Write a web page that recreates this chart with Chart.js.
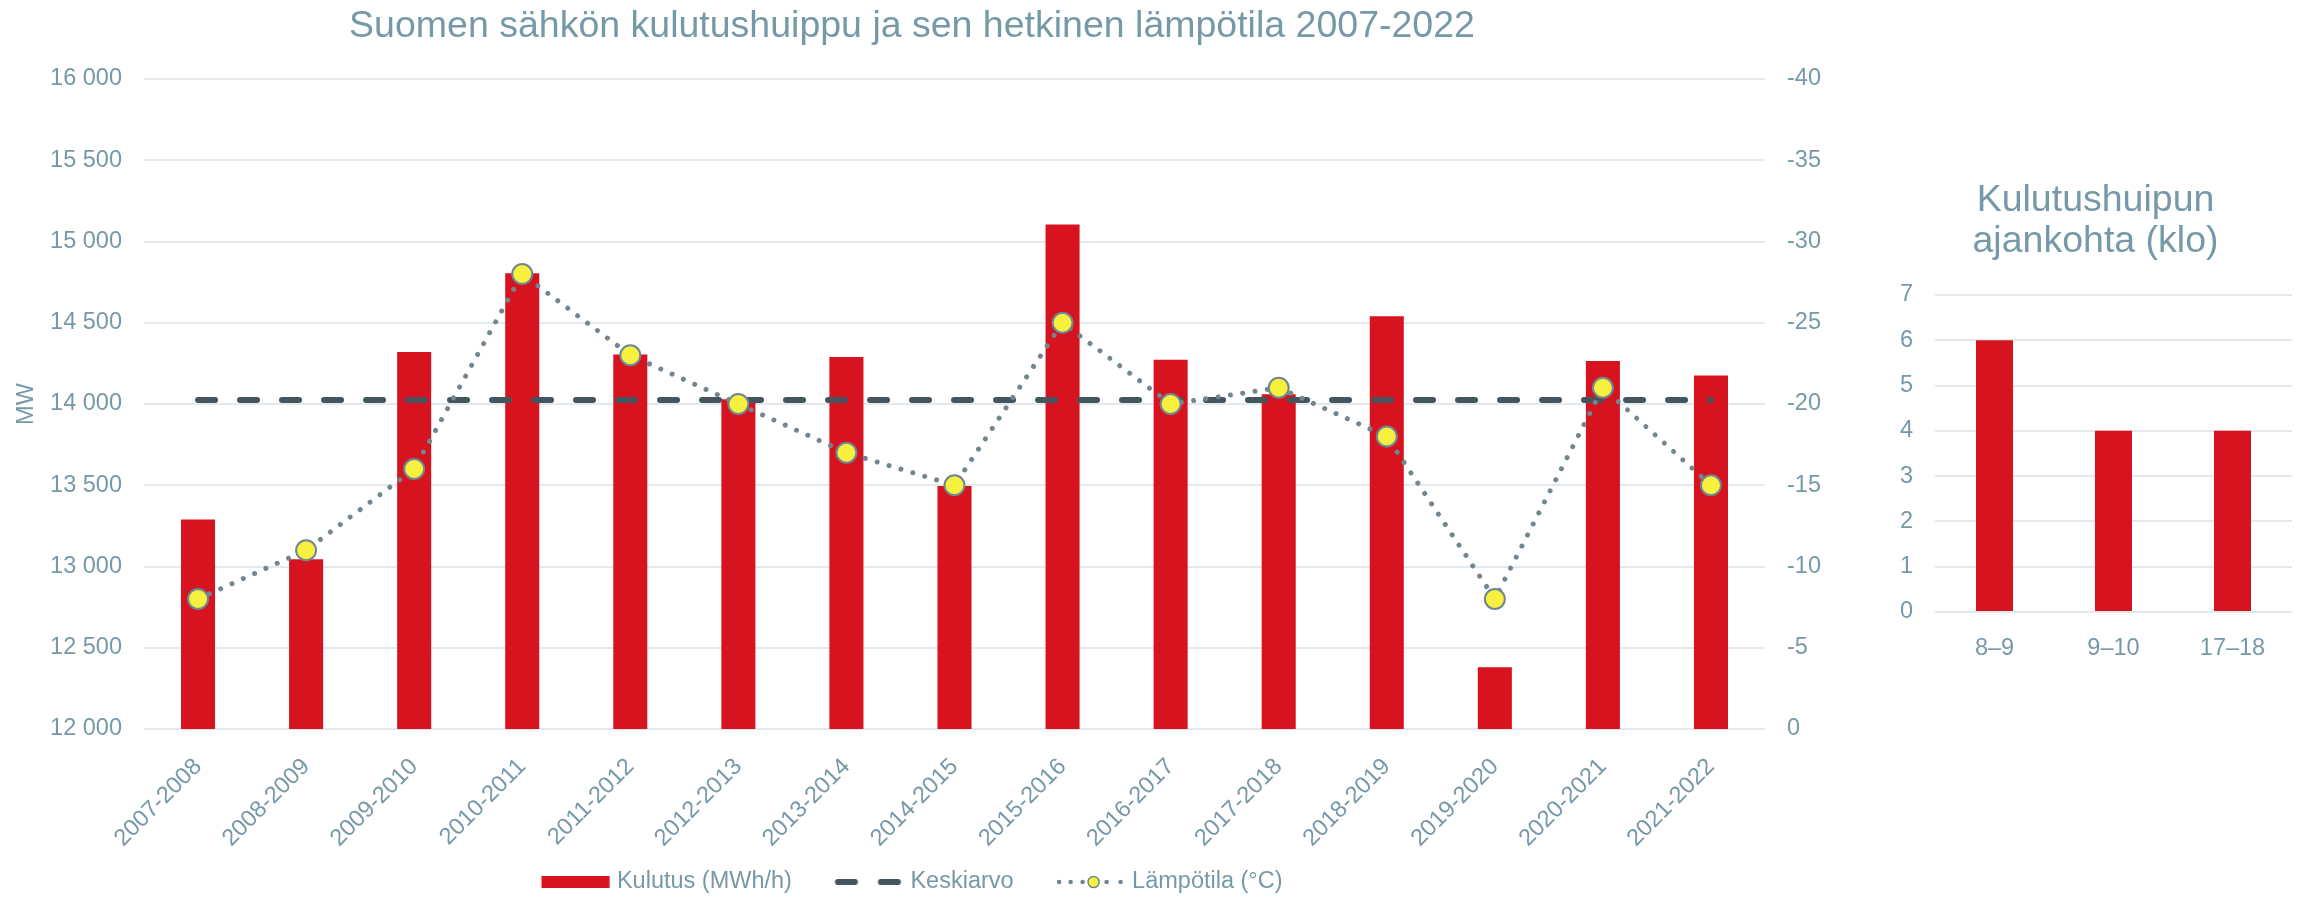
<!DOCTYPE html>
<html>
<head>
<meta charset="utf-8">
<script src="https://cdn.jsdelivr.net/npm/chart.js@4.4.1/dist/chart.umd.min.js"></script>
<style>
html, body { margin: 0; padding: 0; background: #fff; }
#main { position: absolute; left: 0; top: 0; width: 1824px; height: 897px; }
#side { position: absolute; left: 1899px; top: 0; width: 406px; height: 897px; }
</style>
</head>
<body>
<div id="main"><canvas id="mainChart"></canvas></div>
<div id="side"><canvas id="sideChart"></canvas></div>
<script>
// Data
var seasons = ['2007-2008', '2008-2009', '2009-2010', '2010-2011', '2011-2012', '2012-2013', '2013-2014',
    '2014-2015', '2015-2016', '2016-2017', '2017-2018', '2018-2019', '2019-2020', '2020-2021', '2021-2022'];
var kulutus = [13290, 13045, 14320, 14805, 14305, 14030, 14290, 13495, 15105, 14272, 14060, 14540, 12380, 14265, 14175];
var keskiarvo = [14025, 14025, 14025, 14025, 14025, 14025, 14025, 14025, 14025, 14025, 14025, 14025, 14025, 14025, 14025];
var lampotila = [-8, -11, -16, -28, -23, -20, -17, -15, -25, -20, -21, -18, -8, -21, -15];

var hourLabels = ['8–9', '9–10', '17–18'];
var hourCounts = [6, 4, 4];

var textColor = '#7699a8';
var gridColor = '#e3e9ec';
var red = '#d6131f';
var yellow = '#f7f03e';

Chart.defaults.font.family = "'Liberation Sans', Arial, sans-serif";
Chart.defaults.color = textColor;

function thousands(v) {
    return String(v).replace(/\B(?=(\d{3})+(?!\d))/g, ' ');
}

// legend symbols: 68px wide symbol, with empty room on the left as the gap between items
var LEAD = 33;
function symbolCanvas(kind) {
    var c = document.createElement('canvas');
    c.width = 106;
    c.height = 16;
    var g = c.getContext('2d');
    g.translate(37.625, 0);
    if (kind === 'bar') {
        g.fillStyle = red;
        g.fillRect(0, 2, 68, 12);
    } else if (kind === 'dash') {
        g.strokeStyle = '#44555e';
        g.lineWidth = 6;
        g.lineCap = 'round';
        g.beginPath();
        g.moveTo(3, 8); g.lineTo(20, 8);
        g.moveTo(46, 8); g.lineTo(63, 8);
        g.stroke();
    } else {
        g.fillStyle = '#73868f';
        [2.5, 14, 26, 50, 64].forEach(function(x) {
            g.beginPath();
            g.arc(x, 8, 2.3, 0, Math.PI * 2);
            g.fill();
        });
        g.beginPath();
        g.arc(37, 8, 5.6, 0, Math.PI * 2);
        g.fillStyle = yellow;
        g.fill();
        g.lineWidth = 1.5;
        g.strokeStyle = '#6f8792';
        g.stroke();
    }
    return c;
}

var legendSymbols = [symbolCanvas('bar'), symbolCanvas('dash'), symbolCanvas('dot')];

// the empty lead of the first symbol pushes the legend right, pull it back
var legendShift = {
    id: 'legendShift',
    afterLayout: function(chart) {
        chart.legend.left -= LEAD / 2;
        chart.legend.right -= LEAD / 2;
    }
};

var mainChart = new Chart(document.getElementById('mainChart'), {
    type: 'bar',
    data: {
        labels: seasons,
        datasets: [
            {
                label: 'Kulutus (MWh/h)',
                data: kulutus,
                backgroundColor: red,
                borderWidth: 0,
                categoryPercentage: 1,
                barPercentage: 0.315,
                yAxisID: 'y',
                order: 3
            },
            {
                type: 'line',
                label: 'Keskiarvo',
                data: keskiarvo,
                borderColor: '#44555e',
                borderWidth: 6,
                borderDash: [17, 25],
                borderCapStyle: 'round',
                pointRadius: 0,
                fill: false,
                tension: 0,
                yAxisID: 'y',
                order: 2
            },
            {
                type: 'line',
                label: 'Lämpötila (°C)',
                data: lampotila,
                borderColor: '#73868f',
                borderWidth: 5,
                borderDash: [0.01, 12.4],
                borderCapStyle: 'round',
                pointRadius: 10,
                pointBorderWidth: 2,
                pointBackgroundColor: yellow,
                pointBorderColor: '#6f8792',
                fill: false,
                tension: 0,
                yAxisID: 'y1',
                order: 1
            }
        ]
    },
    options: {
        responsive: true,
        maintainAspectRatio: false,
        animation: false,
        layout: { padding: { left: 0, right: 0, top: 0, bottom: -6.75 } },
        plugins: {
            title: {
                display: true,
                text: 'Suomen sähkön kulutushuippu ja sen hetkinen lämpötila 2007-2022',
                color: textColor,
                font: { size: 37.5, weight: 'normal' },
                padding: { top: 4, bottom: 30 }
            },
            legend: {
                position: 'bottom',
                labels: {
                    usePointStyle: true,
                    pointStyleWidth: 96.75,
                    padding: 10,
                    color: textColor,
                    font: { size: 23.5 },
                    generateLabels: function(chart) {
                        return chart.data.datasets.map(function(ds, i) {
                            return {
                                text: ds.label,
                                pointStyle: legendSymbols[i],
                                fillStyle: 'transparent',
                                strokeStyle: 'transparent',
                                lineWidth: 0,
                                fontColor: textColor,
                                hidden: !chart.isDatasetVisible(i),
                                datasetIndex: i
                            };
                        });
                    }
                }
            },
            tooltip: { enabled: false }
        },
        scales: {
            x: {
                grid: { display: false },
                border: { display: false },
                ticks: {
                    autoSkip: false,
                    minRotation: 45,
                    maxRotation: 45,
                    padding: 16,
                    color: textColor,
                    font: { size: 23.5 }
                },
                afterFit: function(scale) { scale.height = 131.25; }
            },
            y: {
                position: 'left',
                min: 12000,
                max: 16000,
                ticks: {
                    stepSize: 500,
                    padding: 22,
                    color: textColor,
                    font: { size: 23.5 },
                    callback: function(v) { return thousands(v); }
                },
                grid: { color: gridColor, lineWidth: 2, drawTicks: false },
                border: { display: false },
                title: {
                    display: true,
                    text: 'MW',
                    color: textColor,
                    font: { size: 23.5 },
                    padding: { top: 12, bottom: 0 }
                },
                afterFit: function(scale) { scale.width = 144; }
            },
            y1: {
                position: 'right',
                min: -40,
                max: 0,
                reverse: true,
                ticks: {
                    stepSize: 5,
                    padding: 22,
                    color: textColor,
                    font: { size: 23.5 }
                },
                grid: { display: false, drawTicks: false },
                border: { display: false },
                afterFit: function(scale) { scale.width = 59; }
            }
        }
    },
    plugins: [legendShift]
});

var sideChart = new Chart(document.getElementById('sideChart'), {
    type: 'bar',
    data: {
        labels: hourLabels,
        datasets: [{
            label: 'Kulutushuipun ajankohta (klo)',
            data: hourCounts,
            backgroundColor: red,
            borderWidth: 0,
            categoryPercentage: 1,
            barPercentage: 0.311
        }]
    },
    options: {
        responsive: true,
        maintainAspectRatio: false,
        animation: false,
        layout: { padding: { left: 0, right: 13, top: 0, bottom: 235 } },
        plugins: {
            title: {
                display: true,
                text: ['Kulutushuipun', 'ajankohta (klo)'],
                color: textColor,
                font: { size: 37.5, weight: 'normal', lineHeight: 1.1 },
                padding: { top: 179.7, bottom: 32.8 }
            },
            legend: { display: false },
            tooltip: { enabled: false }
        },
        scales: {
            x: {
                grid: { display: false },
                border: { display: false },
                ticks: {
                    padding: 14,
                    color: textColor,
                    font: { size: 23.5 }
                },
                afterFit: function(scale) { scale.height = 50; }
            },
            y: {
                min: 0,
                max: 7,
                ticks: {
                    stepSize: 1,
                    padding: 22,
                    color: textColor,
                    font: { size: 23.5 }
                },
                grid: { color: gridColor, lineWidth: 2, drawTicks: false },
                border: { display: false },
                afterFit: function(scale) { scale.width = 36; }
            }
        }
    }
});
</script>
</body>
</html>
